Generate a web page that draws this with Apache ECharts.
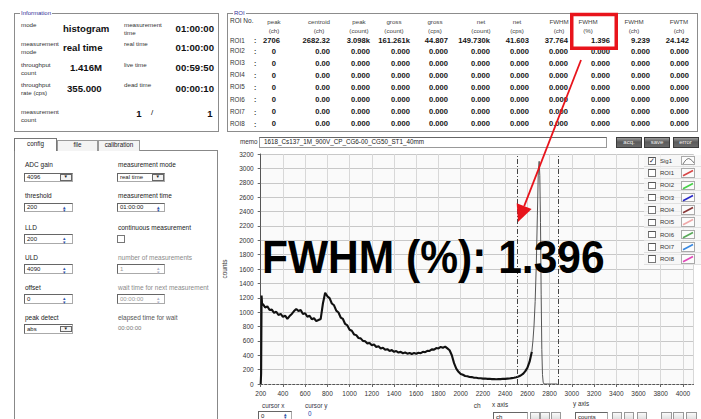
<!DOCTYPE html>
<html><head><meta charset="utf-8">
<script src="https://cdn.jsdelivr.net/npm/echarts@6/dist/echarts.min.js"></script>
<style>
html,body{margin:0;padding:0;background:#fff;width:701px;height:419px;overflow:hidden;font-family:"Liberation Sans",Arial,sans-serif;}
#ui,#chart,#ov{position:absolute;left:0;top:0;width:701px;height:419px;}
#ui{z-index:0;} #chart{z-index:1;} #ov{z-index:2;pointer-events:none;}
</style></head><body>
<div id="ui"></div><div id="chart"></div><div id="ov"></div>
<script>
// ---------------- DATA ----------------
// spectrum continuum (ch, counts)
const contCh = [200,204,208,212,220,240,260,280,300,320,340,360,380,400,420,440,460,480,500,520,540,560,580,600,620,640,660,680,700,720,740,760,780,800,820,840,860,880,900,920,940,960,980,1000,1020,1040,1060,1080,1100,1120,1140,1160,1180,1200,1220,1240,1260,1280,1300,1320,1340,1360,1380,1400,1420,1440,1460,1480,1500,1520,1540,1560,1580,1600,1620,1640,1660,1680,1700,1720,1740,1760,1780,1800,1820,1840,1860,1880,1900,1920,1940,1960,1980,2000,2020,2040,2060,2080,2100,2120,2140,2160,2180,2200,2220,2240,2260,2280,2300,2320,2340,2360,2380,2400,2420,2440,2460,2480,2500,2520,2540,2560,2580,2600,2620,2640];
const contCounts = [0,150,1230,1120,1110,1065,1080,1030,1035,990,1005,960,975,935,950,905,945,975,1015,1045,1015,1030,975,985,935,950,900,915,875,890,905,1120,1270,1220,1195,1120,1095,1020,995,925,905,835,815,755,740,690,680,640,635,600,595,565,570,540,550,515,525,495,505,475,485,460,472,448,458,438,447,428,438,422,432,418,430,420,435,428,448,442,462,460,482,478,500,495,515,505,520,495,470,400,290,215,170,140,128,112,108,98,96,88,86,80,80,75,76,71,72,68,70,67,70,68,72,71,75,77,82,86,95,105,118,140,175,225,310,450];
// photopeak (ch, counts)
const peakCh = [2640,2650,2660,2670,2680,2690,2698,2706,2712,2718,2724,2730,2736,2742,2750,2800,2870];
const peakCounts = [450,600,820,1150,1650,2350,2950,3098,2900,2250,1250,480,130,25,0,0,0];
// ROI cursors (ch)
const roiCursors = [2507,2876];
// axis ticks
const xMin = 200, xMax = 4095, xStep = 200;
const yMin = 0, yMax = 3200, yStep = 200;

// ROI table
const roiHeaders = [['peak','(ch)'],['centroid','(ch)'],['peak','(count)'],['gross','(count)'],['gross','(cps)'],['net','(count)'],['net','(cps)'],['FWHM','(ch)'],['FWHM','(%)'],['FWHM','(ch)'],['FWTM','(ch)']];
const roiNames = ['ROI1','ROI2','ROI3','ROI4','ROI5','ROI6','ROI7','ROI8'];
const roi1Values = ['2706','2682.32','3.098k','161.261k','44.807','149.730k','41.603','37.764','1.396','9.239','24.142'];
const roiEmpty = ['0','0.00','0.000','0.000','0.000','0.000','0.000','0.000','0.000','0.000','0.000'];

// Information
const infoLeft = [['mode','histogram'],['measurement\nmode','real time'],['throughput\ncount','1.416M'],['throughput\nrate (cps)','355.000']];
const infoRight = [['measurement\ntime','01:00:00'],['real time','01:00:00'],['live time','00:59:50'],['dead time','00:00:10']];

// legend
const legendNames = ['Sig1','ROI1','ROI2','ROI3','ROI4','ROI5','ROI6','ROI7','ROI8'];
const legendColors = ['#444','#d84848','#48d048','#2828c8','#883838','#f0a8a8','#58a858','#3888e0','#e048b8'];

const annotation = 'FWHM (%): 1.396';

// ---------------- UI helpers ----------------
const ui = document.getElementById('ui');
const ov = document.getElementById('ov');
function el(p, css, text){
  const d=document.createElement('div');
  d.style.position='absolute'; d.style.boxSizing='border-box'; d.style.whiteSpace='pre';
  Object.assign(d.style, css);
  if(text!=null) d.textContent=text;
  p.appendChild(d); return d;
}
function T(p,x,y,text,size,o){
  o=o||{}; const lh=o.lh||size;
  const css={top:(y-lh/2)+'px',fontSize:size+'px',lineHeight:lh+'px',color:o.color||'#222',fontWeight:o.bold?'bold':'normal'};
  if(o.align==='r'){css.right=(701-x)+'px';css.textAlign='right';}
  else if(o.align==='c'){css.left=x+'px';css.transform='translateX(-50%)';css.textAlign='center';}
  else css.left=x+'px';
  if(o.css) Object.assign(css,o.css);
  return el(p,css,text);
}
function R(p,x,y,w,h,css){return el(p,Object.assign({left:x+'px',top:y+'px',width:w+'px',height:h+'px'},css||{}));}
function fieldset(x,y,w,h,title){
  R(ui,x,y,w,h,{border:'1px solid #8c8c8c'});
  T(ui,x+6,y,title,6,{color:'#333399',css:{background:'#fff',padding:'0 1px'}});
}
function input(x,y,w,h,text,gray){
  R(ui,x,y,w,h,{background:'#fff',border:'1px solid #aaa',borderTopColor:'#666',borderLeftColor:'#666'});
  T(ui,x+3,y+h/2,text,6,{color:gray?'#999':'#222'});
}
function spinner(x,y,gray){T(ui,x,y,'▴\n▾',5,{lh:3.4,color:gray?'#b0b4c8':'#3355aa'});}
function dropdown(x,y,w,h,text){
  input(x,y,w,h,text);
  R(ui,x+w-13,y+1.5,11.5,h-3,{background:'#f2f2f2',border:'1px solid #666'});
  T(ui,x+w-7.3,y+h/2,'▼',4.5,{align:'c',color:'#222'});
}

// ---------------- Information panel ----------------
fieldset(14,13,205,119,'Information');
const infoY=[25,43.5,65,85];
const valY=[28.3,47.7,67.8,88.5];
const valX=[63,63,70,67];
infoLeft.forEach((r,i)=>{
  T(ui,21,infoY[i],r[0],6.2,{lh:8,color:'#333'});
  T(ui,valX[i],valY[i],r[1],9.6,{bold:true,color:'#111'});
});
infoRight.forEach((r,i)=>{
  T(ui,124,infoY[i],r[0],6.2,{lh:8,color:'#333'});
  T(ui,214,valY[i],r[1],9.6,{bold:true,color:'#111',align:'r'});
});
T(ui,21,111.7,'measurement\ncount',6.2,{lh:8,color:'#333'});
T(ui,139,113.3,'1',9.6,{bold:true,align:'c',color:'#111'});
T(ui,152,113.3,'/',8,{align:'c',color:'#111'});
T(ui,212.5,113.3,'1',9.6,{bold:true,align:'r',color:'#111'});

// ---------------- ROI panel ----------------
fieldset(227,13,471,119,'ROI');
T(ui,230,21.5,'ROI No.',6.5,{color:'#333'});
const hdrX=[274,319,359,394,435,481,517,559,588,634,679];
const valRight=[280,330,370,410,448,490,529,568,610,650,689];
const rowY=[40.7,51.5,63.3,75.3,87.5,99.7,112,124.2];
roiHeaders.forEach((h,i)=>{T(ui,hdrX[i],22.5,h[0]+'\n'+h[1],6.2,{lh:8.4,align:'c',color:'#444'});});
roiNames.forEach((n,r)=>{
  T(ui,230,rowY[r],n,6.3,{color:'#333'});
  T(ui,254,rowY[r],':',7,{color:'#333',bold:true});
  const vals = r===0?roi1Values:roiEmpty;
  vals.forEach((v,c)=>{
    const xr = (c===0 && r>0)?276:valRight[c];
    T(ui,xr,rowY[r],v,7.6,{bold:true,align:'r',color:'#151515'});
  });
});

// ---------------- config tabs ----------------
R(ui,14,150,204,280,{border:'1px solid #888',background:'#fff'});
R(ui,57,140,41,10.5,{border:'1px solid #999',borderBottom:'none',background:'#f4f4f4'});
R(ui,98,140,42,10.5,{border:'1px solid #999',borderBottom:'none',background:'#f4f4f4'});
R(ui,14,138,43,13,{border:'1px solid #777',borderBottom:'none',background:'#fff'});
T(ui,35.5,144,'config',6.3,{align:'c'});
T(ui,77.5,145,'file',6.3,{align:'c'});
T(ui,119,145,'calibration',6.3,{align:'c'});

T(ui,25,165.7,'ADC gain',6.5); dropdown(24,172.5,49,9.5,'4096');
T(ui,118,165.7,'measurement mode',6.5); dropdown(117,172.5,48,9.5,'real time');
T(ui,25,196,'threshold',6.5); input(24,202.5,49,9.5,'200'); spinner(63,207.2);
T(ui,118,196,'measurement time',6.5); input(117,202.5,48,9.5,'01:00:00'); spinner(157,207.2);
T(ui,25,228.3,'LLD',6.5); input(24,234.3,49,9.5,'200'); spinner(63,239);
T(ui,118,228.3,'continuous measurement',6.5); R(ui,117,235,7.5,7.5,{border:'1px solid #777',background:'#fff'});
T(ui,25,258.3,'ULD',6.5); input(24,264.3,49,9.5,'4090'); spinner(63,269);
T(ui,118,258.3,'number of measurements',6.5,{color:'#8a8a8a'}); input(117,264.3,48,9.5,'1',true); spinner(157,269,true);
T(ui,25,288.3,'offset',6.5); input(24,294.3,49,9.5,'0'); spinner(63,299);
T(ui,118,288.3,'wait time for next measurement',6.5,{color:'#8a8a8a'}); input(117,294.3,48,9.5,'00:00:00',true); spinner(157,299,true);
T(ui,25,318.3,'peak detect',6.5); dropdown(24,324.3,49,9.5,'abs');
T(ui,118,318.3,'elapsed time for wait',6.5,{color:'#555'}); T(ui,118,327.7,'00:00:00',6,{color:'#777'});

// ---------------- memo bar & buttons ----------------
T(ui,240,142.5,'memo',6.3,{color:'#333'});
R(ui,259,137,348,11,{background:'#fff',border:'1px solid #999',borderTopColor:'#666'});
T(ui,264,142.5,'1618_Cs137_1M_900V_CP_CG6-00_CG50_ST1_40mm',6.3,{color:'#222'});
[['acq.',616,26],['save',644,26],['error',672.5,26]].forEach(b=>{
  R(ui,b[1],137,b[2],10.5,{background:'linear-gradient(#9a9a9a,#5a5a5a 45%,#6a6a6a)',border:'1px solid #3a3a3a'});
  T(ui,b[1]+b[2]/2,142.3,b[0],6,{align:'c',color:'#eee'});
});

// ---------------- bottom controls ----------------
T(ui,262,405.7,'cursor x',6.3,{color:'#334'});
input(258,410.5,34,10,'0'); spinner(284,414.3);
T(ui,305,405.7,'cursor y',6.3,{color:'#334'});
T(ui,308,414.5,'0',6.3,{color:'#2244aa'});
T(ui,492,405.5,'x axis',6.3,{color:'#333'});
T(ui,573,404.5,'y axis',6.3,{color:'#333'});
input(493,411.5,35,10,'ch'); input(575,411.5,33,10,'counts');
[530,540,551,612,624,637,661,673,686].forEach((x,i)=>{
  R(ui,x,411.5,i<6?9.5:11,9,{background:'linear-gradient(#fafafa,#dcdcdc)',border:'1px solid #999'});
});

// ---------------- legend (overlay) ----------------
legendNames.forEach((n,i)=>{
  const y=160.7+12.3*i;
  R(ov,644,y-6.15,57,12.3,{background:'rgba(246,246,246,0.75)',borderBottom:'1px solid #e0e0e0'});
  R(ov,648,y-3.7,7.5,7.5,{border:'1px solid #777',borderTopColor:'#555',background:'#fff'});
  if(i===0) T(ov,651.8,y,'✓',7,{align:'c',color:'#223'});
  T(ov,660,y,n,6,{color:'#333'});
  const box=R(ov,681,y-4.8,14,9.6,{border:'1px solid #aaa',background:'#fcfcfc'});
  box.innerHTML = i===0
    ? '<svg width="12" height="8" style="position:absolute;left:0;top:0"><path d="M1,7 Q5,0 8,2 T12,6" fill="none" stroke="#555" stroke-width="0.8"/></svg>'
    : '<svg width="12" height="8" style="position:absolute;left:0;top:0"><line x1="1" y1="6.8" x2="11" y2="1.5" stroke="'+legendColors[i]+'" stroke-width="1.6"/></svg>';
});

// ---------------- chart ----------------
const FF='"Liberation Sans", Arial, sans-serif';
const chart = echarts.init(document.getElementById('chart'), null, {renderer:'svg', width:701, height:419});
const toPairs=(xs,ys)=>xs.map((x,i)=>[x,ys[i]]);
// arrow geometry (annotation, not data)
const tip=[518,222], tail=[581,60];
const dx=tip[0]-tail[0], dy=tip[1]-tail[1], L=Math.hypot(dx,dy), ux=dx/L, uy=dy/L;
const hl=17, hw=8;
const base=[tip[0]-hl*ux, tip[1]-hl*uy];
chart.setOption({
  animation:false,
  textStyle:{fontFamily:FF},
  grid:{left:260.7, top:154, right:7.5, bottom:35, show:true, backgroundColor:'#fafafa', borderWidth:0},
  xAxis:{type:'value', min:xMin, max:xMax, interval:xStep,
    name:'ch', nameLocation:'middle', nameGap:16, nameTextStyle:{fontSize:6.5,color:'#333',fontFamily:FF},
    axisLine:{show:true,onZero:true,lineStyle:{color:'#555',type:[2,2],width:1}},
    axisTick:{show:true,length:3,lineStyle:{color:'#666'}},
    axisLabel:{fontSize:6.5,color:'#333',margin:6,fontFamily:FF,formatter:v=>String(v)},
    splitLine:{show:true,lineStyle:{color:'#d8d8d8',width:1}}},
  yAxis:{type:'value', min:yMin, max:yMax, interval:yStep,
    name:'counts', nameLocation:'middle', nameGap:20.5, nameRotate:90, nameTextStyle:{fontSize:6.5,color:'#333',fontFamily:FF},
    axisLine:{show:true,lineStyle:{color:'#555',width:1}},
    axisTick:{show:true,length:3,lineStyle:{color:'#666'}},
    axisLabel:{fontSize:6.5,color:'#333',margin:7,fontFamily:FF,formatter:v=>String(v)},
    splitLine:{show:true,lineStyle:{color:'#c8c8c8',width:1}}},
  series:[
    {type:'line', data:toPairs(contCh,contCounts), symbol:'none', lineStyle:{color:'#111',width:2.1}, z:3,
     markLine:{silent:true, symbol:'none', label:{show:false},
       lineStyle:{color:'#444',type:[5,2,1,2],width:1},
       data:roiCursors.map(c=>({xAxis:c}))}},
    {type:'line', data:toPairs(peakCh,peakCounts), symbol:'none', lineStyle:{color:'#555',width:1}, z:3}
  ],
  graphic:[
    {type:'text', x:262, y:256, scaleX:0.905, z:100,
     style:{text:annotation, fontSize:47, fontWeight:'bold', fontFamily:FF, fill:'#000', textAlign:'left', verticalAlign:'middle', textVerticalAlign:'middle'}},
    {type:'rect', z:100, shape:{x:571.75,y:14.45,width:44.5,height:33.8}, style:{fill:'none',stroke:'#e8141c',lineWidth:3.5}},
    {type:'line', z:100, shape:{x1:tail[0],y1:tail[1],x2:base[0],y2:base[1]}, style:{stroke:'#e8141c',lineWidth:1.8}},
    {type:'polygon', z:100, shape:{points:[tip,[base[0]+hw*(-uy),base[1]+hw*ux],[base[0]-hw*(-uy),base[1]-hw*ux]]}, style:{fill:'#e8141c'}}
  ]
});
</script>
</body></html>
